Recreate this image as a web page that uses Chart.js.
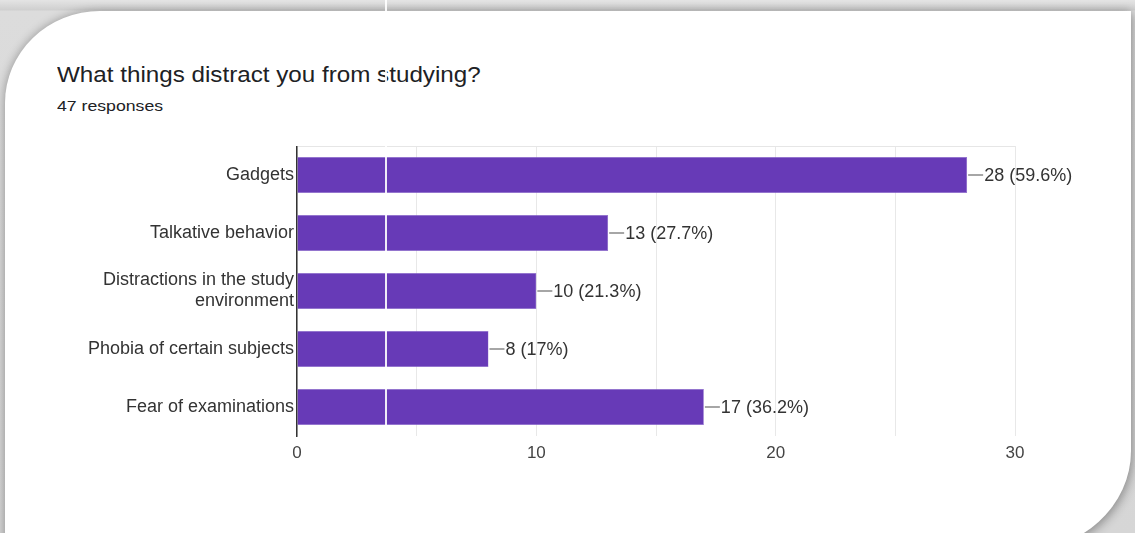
<!DOCTYPE html>
<html>
<head>
<meta charset="utf-8">
<script src="https://cdn.jsdelivr.net/npm/chart.js@4"></script>
<style>
  html, body { margin: 0; padding: 0; }
  body {
    width: 1135px; height: 533px; overflow: hidden; position: relative;
    background: linear-gradient(#e4e4e4, #cfcfcf 10px, #dcdcdc 11px, #d6d6d6);
    font-family: "Liberation Sans", Arial, sans-serif;
  }
  #card {
    position: absolute; left: 5px; top: 11px; width: 1126px; height: 540px;
    background: #fff;
    border-top-left-radius: 95px 92px;
    border-bottom-right-radius: 110px 100px;
    box-shadow: -2px -1px 8px rgba(0,0,0,0.18), 3px 3px 10px rgba(0,0,0,0.25);
  }
  #title { position: absolute; left: 57px; top: 62px; font-size: 22px; color: #202124; transform: scaleX(1.1); transform-origin: left; white-space: nowrap; }
  #sub { position: absolute; left: 57px; top: 97px; font-size: 15.5px; color: #202124; transform: scaleX(1.14); transform-origin: left; white-space: nowrap; }
  #wrap { position: absolute; left: 0; top: 146px; width: 1135px; height: 330px; }
  #seam { position: absolute; left: 385px; top: 0; width: 2px; height: 425px; background: rgba(255,255,255,0.9); }
</style>
</head>
<body>
<div id="card"></div>
<div id="title">What things distract you from studying?</div>
<div id="sub">47 responses</div>
<div id="wrap"><canvas id="myChart"></canvas></div>
<div id="seam"></div>
<script>
'use strict';

let categories = ['Gadgets', 'Talkative behavior', ['Distractions in the study', 'environment'], 'Phobia of certain subjects', 'Fear of examinations'];
let counts = [28, 13, 10, 8, 17];
let totalResponses = 47;
let tickLabels = [0, 10, 20, 30];

// draws the little leader line and "n (p%)" text after each bar
let barLabels = {
  id: 'barLabels',
  afterDatasetsDraw(chart){
    let ctx = chart.ctx;
    let meta = chart.getDatasetMeta(0);
    ctx.save();
    ctx.font = '18px "Liberation Sans", Arial, sans-serif';
    ctx.textBaseline = 'middle';
    for (let i = 0; i < meta.data.length; i++){
      let bar = meta.data[i];
      let v = counts[i];
      let pct = Math.round(v / totalResponses * 1000) / 10;
      ctx.strokeStyle = '#888';
      ctx.lineWidth = 1.5;
      ctx.beginPath();
      ctx.moveTo(bar.x + 1, bar.y);
      ctx.lineTo(bar.x + 16, bar.y);
      ctx.stroke();
      ctx.fillStyle = '#333';
      ctx.fillText(v + ' (' + pct + '%)', bar.x + 17, bar.y + 1);
    }
    ctx.restore();
  }
};

let ctx = document.getElementById('myChart').getContext('2d');
new Chart(ctx, {
  type: 'bar',
  data: {
    labels: categories,
    datasets: [{
      data: counts,
      backgroundColor: '#673ab7',
      borderColor: '#8a64cc',
      borderWidth: 0.5,
      categoryPercentage: 1,
      barPercentage: 0.62
    }]
  },
  options: {
    indexAxis: 'y',
    responsive: true,
    maintainAspectRatio: false,
    animation: false,
    layout: { padding: { left: 0, right: 120, top: 0, bottom: 0 } },
    plugins: { legend: { display: false }, tooltip: { enabled: false } },
    scales: {
      x: {
        min: 0,
        max: 30,
        afterFit(scale){ scale.height = 40; scale.paddingLeft = 0; scale.paddingRight = 0; },
        ticks: {
          stepSize: 5,
          padding: 7,
          color: '#444',
          font: { family: '"Liberation Sans", Arial, sans-serif', size: 17 },
          callback: (v) => tickLabels.includes(v) ? String(v) : ''
        },
        grid: { color: '#e8e8e8', lineWidth: 1, drawTicks: false },
        border: { display: false }
      },
      y: {
        afterFit(scale){ scale.width = 297; scale.paddingTop = 0; scale.paddingBottom = 0; },
        ticks: {
          padding: 3,
          color: '#333',
          font: { family: '"Liberation Sans", Arial, sans-serif', size: 18, lineHeight: 1.17 }
        },
        grid: {
          offset: true,
          drawTicks: false,
          color: (c) => (c.index === 0 || c.index === categories.length) ? '#e6e6e6' : 'rgba(0,0,0,0)'
        },
        border: { color: '#333', width: 1.5 }
      }
    }
  },
  plugins: [barLabels]
});
</script>
</body>
</html>
